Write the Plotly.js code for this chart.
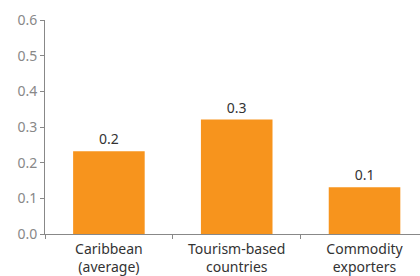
<!DOCTYPE html>
<html><head><meta charset="utf-8">
<script src="https://cdn.plot.ly/plotly-3.0.1.min.js"></script>
<style>html,body{margin:0;padding:0;background:#fff}#c{width:420px;height:276px}</style>
</head><body><div id="c"></div>
<script>
const categories = ["Caribbean<br>(average)", "Tourism-based<br>countries", "Commodity<br>exporters"];
const values = [0.232, 0.321, 0.131];
const labels = ["0.2", "0.3", "0.1"];
const yTicks = [0, 0.1, 0.2, 0.3, 0.4, 0.5, 0.6];
const yTickText = ["0.0", "0.1", "0.2", "0.3", "0.4", "0.5", "0.6"];
const FONT = "'Noto Sans', sans-serif";

Plotly.newPlot("c", [{
  type: "bar",
  x: categories,
  y: values,
  text: labels,
  texttemplate: "%{text}",
  textposition: "outside",
  cliponaxis: false,
  textfont: {family: FONT, size: 14, color: "#333"},
  marker: {color: "#F7941D"},
  width: 0.56,
  hoverinfo: "none"
}], {
  width: 420, height: 276,
  margin: {l: 45, r: 0, t: 20, b: 42},
  paper_bgcolor: "#fff", plot_bgcolor: "#fff",
  showlegend: false,
  font: {family: FONT, size: 14, color: "#333"},
  xaxis: {
    range: [-0.5, 2.434],
    showline: true, linecolor: "#888", linewidth: 1,
    ticks: "outside", tickson: "boundaries", ticklen: 4, tickcolor: "#888",
    tickfont: {family: FONT, size: 14, color: "#333"},
    ticklabelstandoff: 2,
    showgrid: false, zeroline: false, fixedrange: true
  },
  yaxis: {
    range: [0, 0.6],
    tickvals: yTicks, ticktext: yTickText,
    showline: true, linecolor: "#888", linewidth: 1,
    ticks: "outside", ticklen: 4, tickcolor: "#888",
    tickfont: {family: FONT, size: 14, color: "#888"},
    showgrid: false, zeroline: false, fixedrange: true
  }
}, {staticPlot: true, displayModeBar: false});
</script></body></html>
